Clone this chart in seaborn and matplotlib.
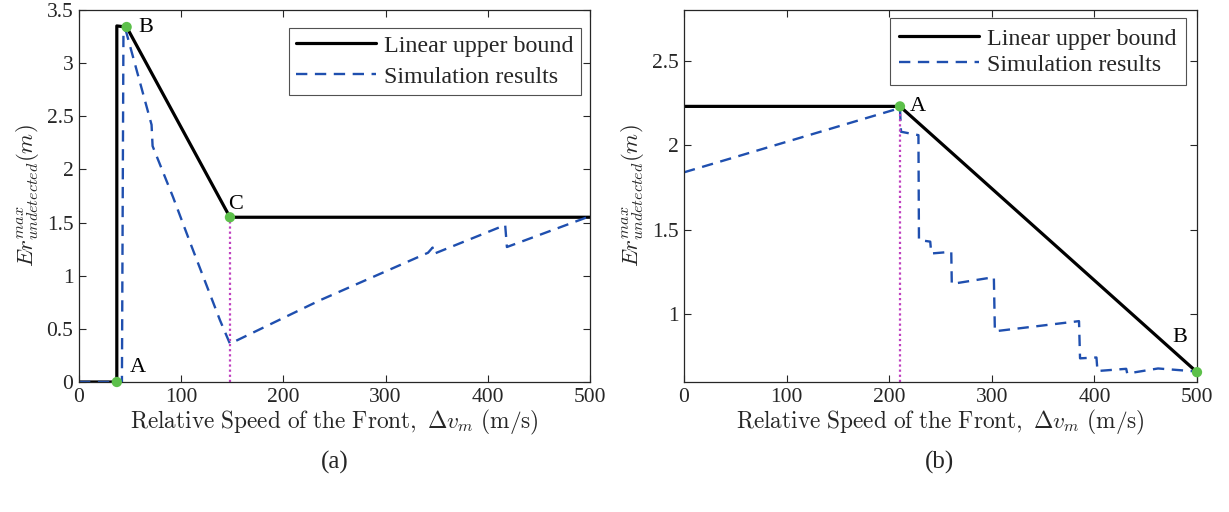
import numpy as np
import pandas as pd
import matplotlib
matplotlib.use("Agg")
import matplotlib.pyplot as plt
import seaborn as sns
from matplotlib.lines import Line2D
from matplotlib.ticker import FuncFormatter

# ---------------- data ----------------
# panel (a)
a_bound_x = [0, 37, 37, 46.6, 147.7, 500]
a_bound_y = [0, 0, 3.35, 3.34, 1.55, 1.55]
a_sim_x = [0, 42, 43.5, 46, 71, 72, 92, 110, 138, 147.7, 236, 341.5, 346, 347, 417, 418.7, 500]
a_sim_y = [0, 0, 3.32, 3.30, 2.42, 2.22, 1.74, 1.28, 0.58, 0.36, 0.77, 1.216, 1.265, 1.205, 1.477, 1.27, 1.56]
a_pts_x = [37, 46.6, 147.7]
a_pts_y = [0, 3.34, 1.55]
a_pts_lab = ["A", "B", "C"]
a_lab_x = [57.7, 65.6, 153.6]
a_lab_y = [0.14, 3.34, 1.67]
a_vline_x = 147.7

# panel (b)
b_bound_x = [0, 210.5, 500]
b_bound_y = [2.23, 2.23, 0.658]
b_sim_x = [0, 210.5, 211.5, 228.5, 229, 240, 241, 260.5, 261, 302, 303, 385, 386, 402,
           403, 431, 432, 462, 500]
b_sim_y = [1.84, 2.22, 2.08, 2.06, 1.44, 1.43, 1.36, 1.37, 1.18, 1.22, 0.90, 0.96, 0.74, 0.745,
           0.665, 0.678, 0.65, 0.68, 0.662]
b_pts_x = [210.5, 500]
b_pts_y = [2.23, 0.658]
b_pts_lab = ["A", "B"]
b_lab_x = [228, 483.4]
b_lab_y = [2.23, 0.864]
b_vline_x = 211

legend_labels = ["Linear upper bound", "Simulation results"]
x_ticks = [0, 100, 200, 300, 400, 500]
a_y_ticks = [0, 0.5, 1, 1.5, 2, 2.5, 3, 3.5]
b_y_ticks = [1, 1.5, 2, 2.5]

# ---------------- style ----------------
sns.set_theme(style="ticks")
plt.rcParams["font.family"] = ["Liberation Serif", "DejaVu Serif"]
plt.rcParams["mathtext.fontset"] = "cm"
plt.rcParams["xtick.direction"] = "in"
plt.rcParams["ytick.direction"] = "in"
plt.rcParams["axes.edgecolor"] = "#262626"
plt.rcParams["axes.linewidth"] = 0.9

BLUE = "#1F4FAF"
GREEN = "#5CC04A"
MAG = "#C040C0"
AXC = "#262626"

fig = plt.figure(figsize=(12.29, 5.12), dpi=100)
ax1 = fig.add_axes([79/1229, 1-382/512, 511/1229, 372/512])
ax2 = fig.add_axes([684/1229, 1-382/512, 513/1229, 372/512])

fmt = FuncFormatter(lambda v, p: "%g" % v)


def draw(ax, bx, by, sx, sy, vx, vy_top, px, py, labs, lx, ly, ylim, yticks,
         leg_anchor, leg_pad, leg_space):
    sns.lineplot(x=bx, y=by, ax=ax, color="black", lw=2.3, sort=False, estimator=None)
    sns.lineplot(x=sx, y=sy, ax=ax, color=BLUE, lw=1.7, sort=False, estimator=None, linestyle="--")
    ax.lines[-1].set_dashes([4.8, 3.2])
    ax.plot([vx, vx], [ylim[0], vy_top], color=MAG, lw=1.6, linestyle=(0, (1, 1.3)), zorder=2)
    sns.scatterplot(x=px, y=py, ax=ax, color=GREEN, s=55, edgecolor="none", zorder=5, clip_on=False)
    for t, x, y in zip(labs, lx, ly):
        ax.text(x, y, t, fontsize=16, color="black", va="center", ha="center")
    ax.set_xlim(0, 500)
    ax.set_ylim(*ylim)
    ax.set_xticks(x_ticks)
    ax.set_yticks(yticks)
    ax.xaxis.set_major_formatter(fmt)
    ax.yaxis.set_major_formatter(fmt)
    ax.tick_params(axis="both", which="both", direction="in", top=True, right=True,
                   labelsize=15.5, colors=AXC, length=5, width=0.8, pad=4)
    for s in ax.spines.values():
        s.set_visible(True)
        s.set_color(AXC)
    ax.set_xlabel(r"$\mathrm{Relative\ Speed\ of\ the\ Front,\ }\Delta v_m\ \mathrm{(m/s)}$",
                  fontsize=16.8, color=AXC, labelpad=1)
    ax.set_ylabel(r"$Er^{max}_{undetected}(m)$", fontsize=16.5, color=AXC, labelpad=4)
    handles = [Line2D([], [], color="black", lw=2.3),
               Line2D([], [], color=BLUE, lw=1.7, dashes=[4.8, 3.2])]
    leg = ax.legend(handles, legend_labels, loc="upper right", bbox_to_anchor=leg_anchor,
                    fontsize=17.3, frameon=True, fancybox=False, edgecolor=AXC,
                    handlelength=3.3, handletextpad=0.35, borderpad=leg_pad,
                    labelspacing=leg_space, borderaxespad=0.0)
    leg.get_frame().set_linewidth(0.8)


draw(ax1, a_bound_x, a_bound_y, a_sim_x, a_sim_y, a_vline_x, 1.55, a_pts_x, a_pts_y,
     a_pts_lab, a_lab_x, a_lab_y, (0, 3.5), a_y_ticks, (0.982, 0.952), 0.3, 0.38)
draw(ax2, b_bound_x, b_bound_y, b_sim_x, b_sim_y, b_vline_x, 2.23, b_pts_x, b_pts_y,
     b_pts_lab, b_lab_x, b_lab_y, (0.6, 2.8), b_y_ticks, (0.979, 0.978), 0.4, 0.17)

fig.text(335/1229, 1-462/512, "(a)", fontsize=18, ha="center", va="center")
fig.text(940/1229, 1-462/512, "(b)", fontsize=18, ha="center", va="center")

fig.savefig("out.png", dpi=100)
